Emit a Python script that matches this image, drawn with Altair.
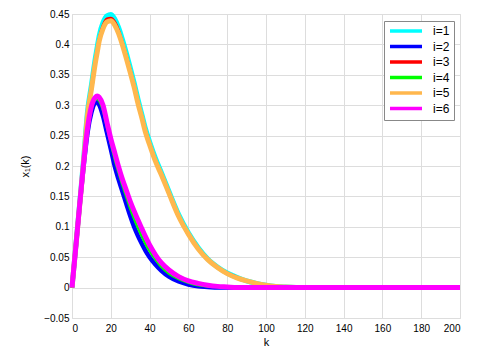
import altair as alt
import pandas as pd

k = [0, 2, 4, 6, 8, 10, 12, 13, 14, 16, 18, 20, 22, 24, 26, 28, 30, 32, 34, 36, 38, 40,
     43, 46, 50, 55, 60, 65, 70, 75, 80, 85, 90, 95, 100, 105, 110, 120, 140, 160, 180, 200]

i1 = [0, 0.070, 0.140, 0.212, 0.290, 0.333, 0.377, 0.396, 0.414, 0.436, 0.447, 0.449, 0.442, 0.428,
      0.408, 0.386, 0.362, 0.337, 0.310, 0.285, 0.260, 0.240, 0.213, 0.190, 0.158, 0.120, 0.090,
      0.066, 0.047, 0.034, 0.024, 0.017, 0.011, 0.007, 0.004, 0.002, 0.001, 0, 0, 0, 0, 0]
i3 = [0, 0.069, 0.138, 0.209, 0.287, 0.329, 0.372, 0.391, 0.409, 0.431, 0.442, 0.443, 0.437, 0.423,
      0.403, 0.381, 0.358, 0.333, 0.306, 0.282, 0.257, 0.237, 0.210, 0.188, 0.156, 0.118, 0.089,
      0.065, 0.046, 0.033, 0.024, 0.017, 0.011, 0.007, 0.004, 0.002, 0.001, 0, 0, 0, 0, 0]
i5 = [0, 0.069, 0.137, 0.207, 0.284, 0.326, 0.369, 0.387, 0.405, 0.426, 0.437, 0.439, 0.432, 0.418,
      0.399, 0.377, 0.354, 0.330, 0.303, 0.279, 0.254, 0.235, 0.208, 0.186, 0.155, 0.117, 0.088,
      0.064, 0.046, 0.033, 0.023, 0.016, 0.011, 0.007, 0.004, 0.002, 0.001, 0, 0, 0, 0, 0]
i2 = [0, 0.068, 0.137, 0.200, 0.255, 0.288, 0.304, 0.305, 0.301, 0.282, 0.255, 0.228, 0.200, 0.178,
      0.158, 0.138, 0.118, 0.100, 0.085, 0.072, 0.060, 0.050, 0.038, 0.028, 0.018, 0.010, 0.005,
      0.002, 0.001, 0, 0, 0, 0, 0, 0, 0, 0, 0, 0, 0, 0, 0]
i4 = [0, 0.068, 0.137, 0.202, 0.258, 0.293, 0.309, 0.310, 0.307, 0.291, 0.264, 0.237, 0.211, 0.189,
      0.168, 0.149, 0.130, 0.113, 0.098, 0.084, 0.071, 0.060, 0.046, 0.034, 0.023, 0.014, 0.008,
      0.004, 0.002, 0.001, 0, 0, 0, 0, 0, 0, 0, 0, 0, 0, 0, 0]
i6 = [0, 0.068, 0.138, 0.205, 0.262, 0.298, 0.313, 0.315, 0.313, 0.300, 0.272, 0.245, 0.222, 0.199,
      0.178, 0.160, 0.142, 0.126, 0.111, 0.097, 0.083, 0.070, 0.054, 0.041, 0.029, 0.018, 0.011,
      0.007, 0.004, 0.002, 0.001, 0, 0, 0, 0, 0, 0, 0, 0, 0, 0, 0]

series_names = ["i=1", "i=2", "i=3", "i=4", "i=5", "i=6"]
series_values = [i1, i2, i3, i4, i5, i6]
series_colors = ["#00FFFF", "#0000FF", "#FF0000", "#00FF00", "#FFB74D", "#FF00FF"]
series_widths = [5, 4.5, 3, 2.5, 5, 5]

x_ticks = [0, 20, 40, 60, 80, 100, 120, 140, 160, 180, 200]
y_ticks = [-0.05, 0, 0.05, 0.1, 0.15, 0.2, 0.25, 0.3, 0.35, 0.4, 0.45]

rows = []
for name, vals in zip(series_names, series_values):
    for kk, v in zip(k, vals):
        rows.append({"k": kk, "v": v, "series": name})
df = pd.DataFrame(rows)

FONT = "Liberation Sans"

x_enc = alt.X("k:Q", scale=alt.Scale(domain=[0, 200], nice=False),
              axis=alt.Axis(values=x_ticks, title="k", grid=True, ticks=False, domain=False,
                            labelPadding=5, titlePadding=3, titleFontWeight="normal"))
y_enc = alt.Y("v:Q", scale=alt.Scale(domain=[-0.05, 0.45], nice=False),
              axis=alt.Axis(values=y_ticks, format="~g", title="x₁(k)", grid=True, ticks=False,
                            domain=False, labelPadding=3, titlePadding=13,
                            titleFontWeight="normal"))
color_enc = alt.Color("series:N", scale=alt.Scale(domain=series_names, range=series_colors),
                      legend=alt.Legend(title=None, orient="none", legendX=312, legendY=7,
                                        fillColor="white", strokeColor="#888888", padding=4,
                                        symbolType="M-1,0H7", symbolSize=64,
                                        symbolStrokeWidth=3.5, labelOffset=33,
                                        rowPadding=1.5, labelFontSize=12))

layers = []
for name, w in zip(series_names, series_widths):
    layers.append(
        alt.Chart(df).transform_filter(alt.datum.series == name)
        .mark_line(strokeWidth=w, interpolate="monotone")
        .encode(x=x_enc, y=y_enc, color=color_enc, order=alt.Order("k:Q"))
    )

chart = alt.layer(*layers).properties(
    width=388, height=304,
    autosize=alt.AutoSizeParams(type="none"),
    padding={"left": 64, "top": 6, "right": 12, "bottom": 33},
).configure_view(stroke="#888888", strokeWidth=1).configure_axis(
    labelFont=FONT, titleFont=FONT, labelFontSize=11.5, titleFontSize=11.5,
    labelColor="#000000", titleColor="#000000", titleFontWeight="normal",
    gridColor="#999999", gridDash=[1, 3], gridOpacity=0.9,
).configure_legend(labelFont=FONT, labelColor="#000000").configure(background="white")

chart.save("out.html", embed_options={"renderer": "svg", "actions": False})
